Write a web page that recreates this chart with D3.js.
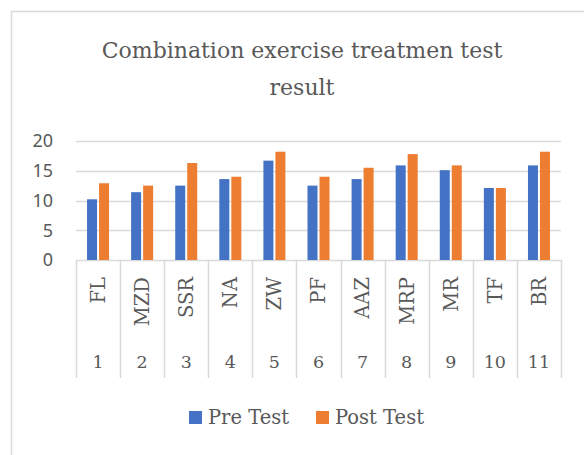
<!DOCTYPE html>
<html>
<head>
<meta charset="utf-8">
<script src="https://cdn.jsdelivr.net/npm/d3@7/dist/d3.min.js"></script>
<style>
  html, body { margin: 0; padding: 0; background: #fff; }
  svg { display: block; }
</style>
</head>
<body>
<svg id="chart" width="584" height="455"></svg>
<script>
const names = ['FL', 'MZD', 'SSR', 'NA', 'ZW', 'PF', 'AAZ', 'MRP', 'MR', 'TF', 'BR']
const numbers = ['1', '2', '3', '4', '5', '6', '7', '8', '9', '10', '11']
const preTest = [10.2, 11.4, 12.5, 13.6, 16.7, 12.5, 13.6, 15.9, 15.1, 12.1, 15.9]
const postTest = [12.9, 12.5, 16.3, 14.0, 18.2, 14.0, 15.5, 17.8, 15.9, 12.1, 18.2]
const seriesNames = ['Pre Test', 'Post Test']
const seriesColors = ['#4472c4', '#ed7d31']
const yTicks = [0, 5, 10, 15, 20]

const serif = '"DejaVu Serif", serif'
const sans = '"Noto Sans", sans-serif'
const textColor = '#595959'
const lineColor = '#d9d9d9'

const svg = d3.select('#chart')

// outer chart border (runs off the right and bottom edges)
svg.append('rect')
  .attr('x', 11.5).attr('y', 11.5)
  .attr('width', 600).attr('height', 460)
  .attr('fill', 'none')
  .attr('stroke', lineColor)
  .attr('stroke-width', 1.5)

const x = d3.scaleBand().domain(numbers).range([76, 561]).padding(0)
const x1 = d3.scaleBand().domain(seriesNames)
  .range([0, x.bandwidth()])
  .paddingInner(1 / 6)
  .paddingOuter(0.92)
const y = d3.scaleLinear().domain([0, 20]).range([260, 141])

// title
const title = svg.append('text')
  .attr('text-anchor', 'middle')
  .attr('fill', textColor)
  .attr('font-family', serif)
  .attr('font-size', 22)
title.append('tspan').attr('x', 302).attr('y', 58).text('Combination exercise treatmen test')
title.append('tspan').attr('x', 302).attr('y', 95).text('result')

// gridlines
svg.append('g')
  .selectAll('line')
  .data(yTicks)
  .join('line')
  .attr('x1', 76).attr('x2', 561)
  .attr('y1', d => Math.round(y(d)) + 0.5)
  .attr('y2', d => Math.round(y(d)) + 0.5)
  .attr('stroke', lineColor)
  .attr('stroke-width', 1.5)

// y labels
svg.append('g')
  .selectAll('text')
  .data(yTicks)
  .join('text')
  .attr('x', 53)
  .attr('y', d => y(d))
  .attr('dy', '0.35em')
  .attr('text-anchor', 'end')
  .attr('fill', textColor)
  .attr('font-family', sans)
  .attr('font-size', 18)
  .text(d => d)

// bars
const groups = svg.append('g')
  .selectAll('g')
  .data(numbers)
  .join('g')
  .attr('transform', d => `translate(${x(d)},0)`)

groups.selectAll('rect')
  .data((d, i) => [preTest[i], postTest[i]].map((v, j) => ({ key: seriesNames[j], v, c: seriesColors[j] })))
  .join('rect')
  .attr('x', d => x1(d.key))
  .attr('y', d => y(d.v))
  .attr('width', x1.bandwidth())
  .attr('height', d => y(0) - y(d.v))
  .attr('fill', d => d.c)

// multi-level category axis dividers
const bounds = numbers.map(d => x(d)).concat([x.range()[1]])
svg.append('g')
  .selectAll('line')
  .data(bounds)
  .join('line')
  .attr('x1', d => Math.round(d) + 0.5)
  .attr('x2', d => Math.round(d) + 0.5)
  .attr('y1', y(0))
  .attr('y2', 378)
  .attr('stroke', lineColor)
  .attr('stroke-width', 1.5)

// rotated name labels
svg.append('g')
  .selectAll('text')
  .data(names)
  .join('text')
  .attr('transform', (d, i) => `translate(${x(numbers[i]) + x.bandwidth() / 2},277) rotate(-90)`)
  .attr('dy', '0.35em')
  .attr('text-anchor', 'end')
  .attr('fill', textColor)
  .attr('font-family', serif)
  .attr('font-size', 19.5)
  .text(d => d)

// number labels
svg.append('g')
  .selectAll('text')
  .data(numbers)
  .join('text')
  .attr('x', d => x(d) + x.bandwidth() / 2)
  .attr('y', 362)
  .attr('dy', '0.35em')
  .attr('text-anchor', 'middle')
  .attr('fill', textColor)
  .attr('font-family', serif)
  .attr('font-size', 17.5)
  .text(d => d)

// legend
const legend = svg.append('g')
const legendX = [189, 316]
seriesNames.forEach((s, i) => {
  legend.append('rect')
    .attr('x', legendX[i]).attr('y', 411)
    .attr('width', 13).attr('height', 13)
    .attr('fill', seriesColors[i])
  legend.append('text')
    .attr('x', legendX[i] + 19).attr('y', 417.5)
    .attr('dy', '0.35em')
    .attr('fill', textColor)
    .attr('font-family', serif)
    .attr('font-size', 19.5)
    .text(s)
})
</script>
</body>
</html>
